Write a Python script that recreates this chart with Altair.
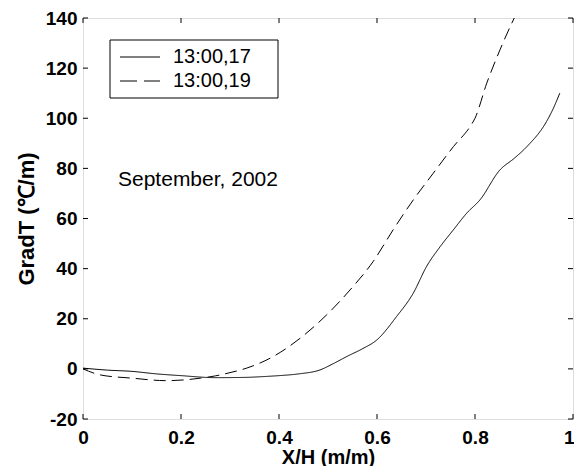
import altair as alt
import pandas as pd

# Series 13:00,17 (solid)
x17 = [0, 0.05, 0.10, 0.15, 0.2, 0.27, 0.33, 0.375, 0.40, 0.44, 0.484, 0.51, 0.538, 0.57, 0.6,
       0.64, 0.674, 0.701, 0.729, 0.756, 0.783, 0.81, 0.851, 0.88, 0.906, 0.946, 0.96, 0.973]
y17 = [0.3, -0.5, -1, -2, -2.7, -3.5, -3.4, -3, -2.7, -2, -0.4, 2, 4.9, 8, 11.6,
       20.9, 30.2, 40.8, 48.8, 55.5, 62.1, 67.4, 79.4, 84, 88.7, 98.7, 104, 110]

# Series 13:00,19 (dashed)
x19 = [0, 0.035, 0.10, 0.17, 0.24, 0.27, 0.30, 0.334, 0.388, 0.443, 0.497, 0.545, 0.592,
       0.633, 0.674, 0.715, 0.756, 0.79, 0.80, 0.824, 0.851, 0.875, 0.885]
y19 = [0, -2.4, -3.7, -4.7, -3.7, -2.8, -1.5, 0.3, 4.9, 12.2, 21.5, 31.5, 42.8,
       55.5, 67.4, 78.1, 88.7, 96.7, 100, 114, 127.3, 137.9, 142]

series_names = ["13:00,17", "13:00,19"]
x_ticks = [0, 0.2, 0.4, 0.6, 0.8, 1]
y_ticks = [-20, 0, 20, 40, 60, 80, 100, 120, 140]
annotation = "September, 2002"

rows = []
for xs, ys, name in [(x17, y17, series_names[0]), (x19, y19, series_names[1])]:
    for i, (a, b) in enumerate(zip(xs, ys)):
        rows.append({"x": a, "y": b, "series": name, "order": i})
df = pd.DataFrame(rows)

W, H = 490, 401
FONT = "Liberation Sans"
DASH = [12, 6]

xscale = alt.Scale(domain=[0, 1], nice=False, zero=False)
yscale = alt.Scale(domain=[-20, 140], nice=False, zero=False)

xaxis = alt.Axis(values=x_ticks, format="~g", tickSize=0, domain=False, grid=False,
                 labelAlign={"condition": {"test": "datum.value == 1", "value": "right"},
                             "value": "center"},
                 labelOffset={"condition": {"test": "datum.value == 1", "value": 1},
                              "value": 0},
                 labelFontSize=19, labelFontWeight="bold", labelPadding=9, labelColor="black",
                 labelFont=FONT, title="X/H (m/m)", titleFontSize=20, titleFont=FONT,
                 titleFontWeight="bold", titleColor="black", titlePadding=0, labelFlush=False)
yaxis = alt.Axis(values=y_ticks, tickSize=0, domain=False, grid=False,
                 labelExpr="'' + datum.value",
                 labelFontSize=19, labelFontWeight="bold", labelPadding=6, labelColor="black",
                 labelFont=FONT, title="GradT (℃/m)", titleFontSize=22, titleFont=FONT,
                 titleFontWeight="bold", titleColor="black", titlePadding=7, labelFlush=False)

lines = alt.Chart(df).mark_line(color="black", strokeWidth=1, clip=True,
                                interpolate="monotone").encode(
    x=alt.X("x:Q", scale=xscale, axis=xaxis),
    y=alt.Y("y:Q", scale=yscale, axis=yaxis),
    strokeDash=alt.StrokeDash(
        "series:N",
        scale=alt.Scale(domain=series_names, range=[[1, 0], DASH]),
        legend=None,
    ),
    order="order:Q",
)

xt = pd.DataFrame({"v": x_ticks})
yt = pd.DataFrame({"v": y_ticks})

tick_bottom = alt.Chart(xt).mark_rule(color="black", strokeWidth=1).encode(
    x=alt.X("v:Q", scale=xscale), y=alt.value(H), y2=alt.value(H - 5))
tick_top = alt.Chart(xt).mark_rule(color="black", strokeWidth=1).encode(
    x=alt.X("v:Q", scale=xscale), y=alt.value(0), y2=alt.value(5))
tick_left = alt.Chart(yt).mark_rule(color="black", strokeWidth=1).encode(
    y=alt.Y("v:Q", scale=yscale), x=alt.value(0), x2=alt.value(5))
tick_right = alt.Chart(yt).mark_rule(color="black", strokeWidth=1).encode(
    y=alt.Y("v:Q", scale=yscale), x=alt.value(W), x2=alt.value(W - 5))

# legend box (drawn by hand, MATLAB style)
legend_df = pd.DataFrame({"name": series_names})
legend_box = alt.Chart(legend_df.head(1)).mark_rect(
    fill="white", stroke="black", strokeWidth=1
).encode(x=alt.value(27), x2=alt.value(195), y=alt.value(22), y2=alt.value(80))
legend_solid = alt.Chart(legend_df.head(1)).mark_rule(color="black", strokeWidth=1).encode(
    x=alt.value(37), x2=alt.value(77), y=alt.value(39))
legend_dash = alt.Chart(legend_df.head(1)).mark_rule(
    color="black", strokeWidth=1, strokeDash=[17, 7]).encode(
    x=alt.value(37), x2=alt.value(77), y=alt.value(63))
legend_t1 = alt.Chart(legend_df.iloc[[0]]).mark_text(
    align="left", baseline="middle", fontSize=20, font=FONT, color="black"
).encode(x=alt.value(90), y=alt.value(39), text="name:N")
legend_t2 = alt.Chart(legend_df.iloc[[1]]).mark_text(
    align="left", baseline="middle", fontSize=20, font=FONT, color="black"
).encode(x=alt.value(90), y=alt.value(63), text="name:N")

note = alt.Chart(pd.DataFrame({"t": [annotation]})).mark_text(
    align="left", baseline="middle", fontSize=21, font=FONT, color="black"
).encode(x=alt.value(35), y=alt.value(162), text="t:N")

chart = alt.layer(
    lines, tick_bottom, tick_top, tick_left, tick_right,
    legend_box, legend_solid, legend_dash, legend_t1, legend_t2, note
).properties(
    width=W, height=H,
    autosize=alt.AutoSizeParams(type="none"),
    padding={"left": 75, "top": 10, "right": 1, "bottom": 47},
).configure_view(stroke="black", strokeWidth=1).configure(background="white")

chart.save("out.html", embed_options={"renderer": "svg", "actions": False})
